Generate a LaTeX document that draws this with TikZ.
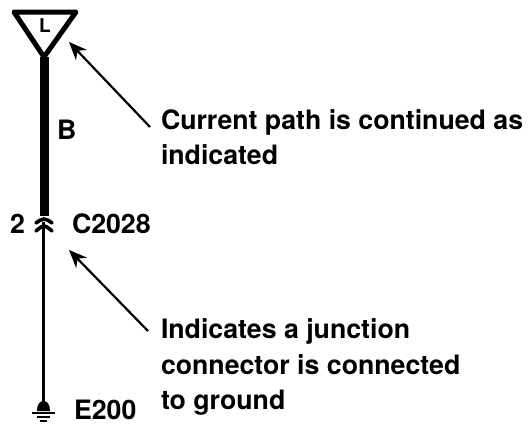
\documentclass[tikz,border=0pt]{standalone}
\usepackage{fontspec}
\setmainfont{TeX Gyre Heros}
\usetikzlibrary{arrows.meta}
\tikzset{
 lbl/.style={font=\bfseries\fontsize{26.7}{35.5}\selectfont,inner sep=0pt,outer sep=0pt},
 note/.style={lbl,anchor=west,align=left},
 pointer/.style={line width=2.2pt,-{Stealth[length=18pt,width=15pt]}},
}
\begin{document}
\begin{tikzpicture}[x=1pt,y=-1pt]
\useasboundingbox (0,0) rectangle (532,423);
\fill[white] (0,0) rectangle (532,423);
\coordinate (apex) at (44,57);
\coordinate (barend) at (44,216);
\coordinate (wiretop) at (43.5,222);
\coordinate (gnd) at (43.5,404);
\coordinate (tipA) at (69,42);
\coordinate (tailA) at (150,127);
\coordinate (tipB) at (69,250);
\coordinate (tailB) at (148,331);
\draw[line width=5pt,line join=round] (14,12) -- (76,12) -- (apex) -- cycle;
\draw[line width=9pt] (apex) -- (barend);
\node[lbl,font=\bfseries\fontsize{19}{22}\selectfont] (L) at (45,26) {L};
\node[lbl,anchor=west] (B) at (57,130) {B};
% connector
\draw[line width=3.6pt,line cap=round] (36,223) .. controls (39,221) and (41,219) .. (44,219) .. controls (47,219) and (49,221) .. (52,223);
\draw[line width=3.6pt,line cap=round] (36,231) .. controls (39,229) and (41,226) .. (44,226) .. controls (47,226) and (49,229) .. (52,231);
\draw[line width=3pt] (wiretop) -- (gnd);
\node[lbl,anchor=east] (two) at (25,224) {2};
\node[lbl,anchor=west] (c) at (72,224) {C2028};
% ground
\fill (37,411) .. controls (37,404) and (40,401) .. (43.5,401) .. controls (47,401) and (50,404) .. (50,411) -- cycle;
\draw[line width=2pt] (32,413) -- (55,413) (37,417) -- (50,417) (40,421) -- (47,421);
\node[lbl,anchor=west] (e) at (74,410) {E200};
\draw[pointer] (tailA) -- (tipA);
\draw[pointer] (tailB) -- (tipB);
\node[note] (n1) at (161,137) {Current path is continued as\\indicated};
\node[note] (n2) at (161,367) {Indicates a junction\\connector is connected\\to ground};
\end{tikzpicture}
\end{document}
